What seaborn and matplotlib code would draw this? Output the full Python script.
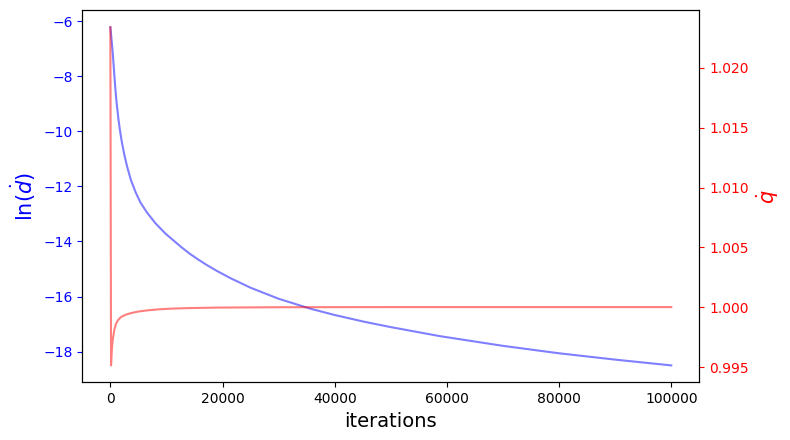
import matplotlib
matplotlib.use('Agg')
from matplotlib import pyplot as plt
import pandas as pd
import seaborn as sns

# ln(d_dot)
d_iter = [0, 200, 410, 600, 840, 1100, 1430, 1700, 2010, 2500, 3000, 3680, 4500, 5350,
          6500, 8000, 9800, 11290, 12800, 14260, 15700, 17230, 19000, 21390, 25000,
          30000, 35650, 40000, 45150, 50000, 58820, 70000, 76650, 80000, 90000, 100000]
d_val = [-6.22, -6.65, -7.11, -7.65, -8.33, -8.94, -9.54, -9.95, -10.35, -10.86, -11.29,
         -11.78, -12.21, -12.58, -12.94, -13.33, -13.71, -13.97, -14.23, -14.46, -14.66,
         -14.86, -15.07, -15.33, -15.68, -16.08, -16.44, -16.67, -16.91, -17.11, -17.44,
         -17.79, -17.97, -18.06, -18.29, -18.50]

# q_dot
q_iter = [0, 120, 250, 410, 700, 1010, 1400, 1900, 2700, 3680, 5000, 6650, 8500, 10800,
          14000, 19300, 30000, 50000, 100000]
q_val = [1.0234, 0.99515, 0.9964, 0.99724, 0.9981, 0.99864, 0.99895, 0.99919, 0.99938,
         0.99952, 0.99965, 0.99975, 0.99983, 0.99989, 0.99994, 0.99998, 1.00001, 1.00002,
         1.00002]

df_d = pd.DataFrame({'iterations': d_iter, 'lnd': d_val})
df_q = pd.DataFrame({'iterations': q_iter, 'q': q_val})

fig = plt.figure(figsize=(7.9, 4.4), dpi=100)
ax1 = fig.add_axes([0.1042, 0.1311, 0.781, 0.8455])
ax2 = ax1.twinx()

sns.lineplot(data=df_d, x='iterations', y='lnd', ax=ax1, color='b', alpha=0.5, linewidth=1.5)
sns.lineplot(data=df_q, x='iterations', y='q', ax=ax2, color='r', alpha=0.5, linewidth=1.5)

ax1.set_xlabel('iterations', fontsize=14)
ax1.set_ylabel(r'$\ln(\dot{d})$', fontsize=15, color='b')
ax2.set_ylabel(r'$\dot{q}$', fontsize=15, color='r')
ax1.tick_params(axis='y', colors='b')
ax2.tick_params(axis='y', colors='r')

plt.savefig('out.png', dpi=100)
